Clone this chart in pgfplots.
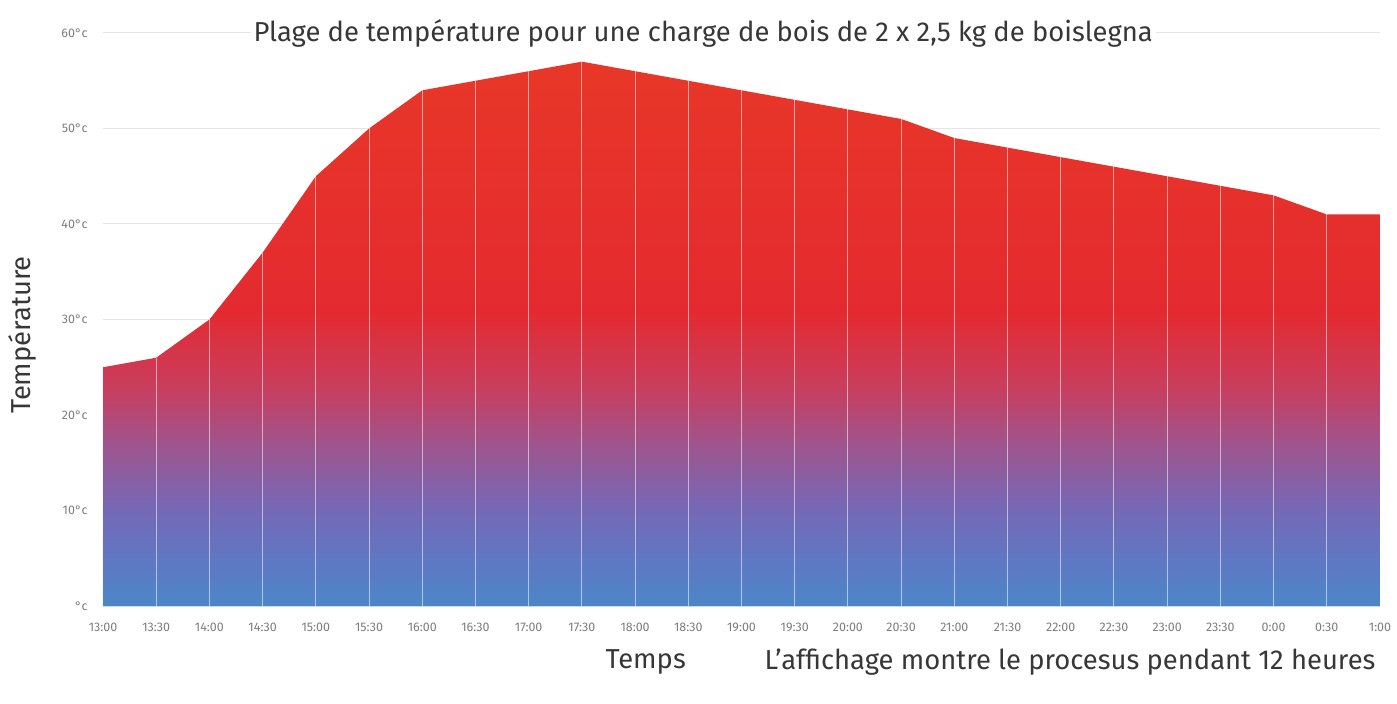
\documentclass[border=0pt]{standalone}
\usepackage{fontspec}
\setmainfont{Fira Sans}
\usepackage{pgfplots}
\pgfplotsset{compat=1.18}
\definecolor{c0}{RGB}{75,135,200}
\definecolor{c1}{RGB}{95,120,195}
\definecolor{c2}{RGB}{118,104,182}
\definecolor{c3}{RGB}{160,84,140}
\definecolor{c4}{RGB}{200,62,95}
\definecolor{c5}{RGB}{228,42,48}
\definecolor{c6}{RGB}{232,55,40}
\definecolor{txt}{RGB}{55,55,55}
\definecolor{tick}{RGB}{125,125,125}
\pgfdeclareverticalshading{tempgrad}{100bp}{color(0bp)=(c0); color(25bp)=(c0); color(29bp)=(c1); color(34bp)=(c2); color(40bp)=(c3); color(45bp)=(c4); color(52bp)=(c5); color(75bp)=(c6); color(100bp)=(c6)}
\pgfplotstableread{
x y
0 25
1 26
2 30
3 37
4 45
5 50
6 54
7 55
8 56
9 57
10 56
11 55
12 54
13 53
14 52
15 51
16 49
17 48
18 47
19 46
20 45
21 44
22 43
23 41
24 41
}\temps
\begin{document}
\begin{tikzpicture}
\useasboundingbox (-103bp,-98bp) rectangle (1294bp,606bp);
\begin{axis}[
  at={(0,0)}, anchor=south west,
  scale only axis, width=1277bp, height=573bp,
  xmin=0, xmax=24, ymin=0, ymax=60,
  clip=false,
  axis line style={draw=none},
  major tick length=0pt,
  ymajorgrids,
  grid style={draw=black!10, line width=1bp},
  xtick={0,...,24},
  xticklabels={13:00,13:30,14:00,14:30,15:00,15:30,16:00,16:30,17:00,17:30,18:00,18:30,19:00,19:30,20:00,20:30,21:00,21:30,22:00,22:30,23:00,23:30,0:00,0:30,1:00},
  ytick={0,10,...,60},
  yticklabels={°c,10°c,20°c,30°c,40°c,50°c,60°c},
  ticklabel style={font=\fontsize{12.5}{14}\selectfont, text=tick},
  xticklabel style={yshift=-14bp},
  yticklabel style={xshift=-12bp},
]
\addplot[draw=none, shading=tempgrad] table[x=x,y=y] {\temps} \closedcycle;
\addplot[ycomb, draw=white, opacity=0.55, line width=1bp, mark=none] table[x=x,y=y] {\temps};
\node[fill=white, inner sep=3bp, font=\fontsize{27.5}{32}\selectfont, text=txt] at (rel axis cs:0.47,1) {Plage de température pour une charge de bois de 2 x 2,5 kg de boislegna};
\node[xshift=-81bp, rotate=90, font=\fontsize{27.5}{32}\selectfont, text=txt] at (rel axis cs:0,0.473) {Température};
\node[yshift=-56bp, font=\fontsize{27.5}{32}\selectfont, text=txt] at (rel axis cs:0.425,0) {Temps};
\node[yshift=-56bp, xshift=-1bp, anchor=east, font=\fontsize{27.5}{32}\selectfont, text=txt] at (rel axis cs:1,0) {L’affichage montre le procesus pendant 12 heures};
\end{axis}
\end{tikzpicture}
\end{document}
